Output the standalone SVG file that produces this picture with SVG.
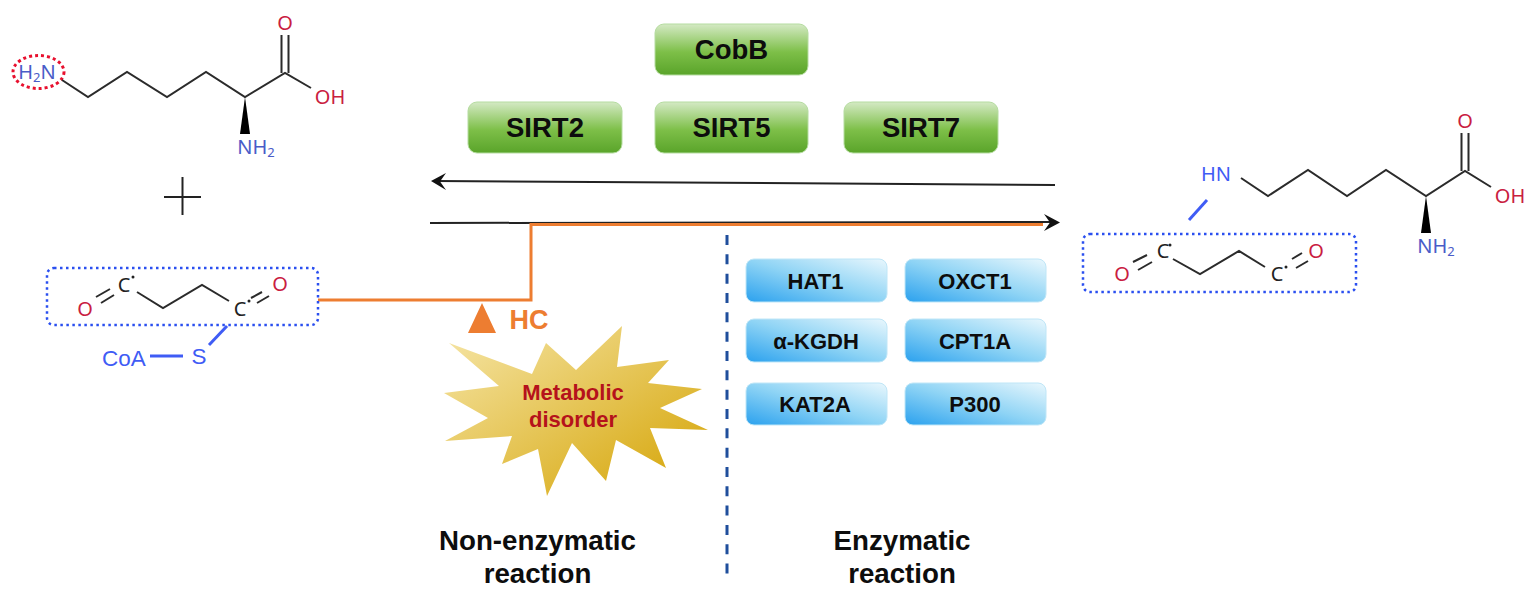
<svg xmlns="http://www.w3.org/2000/svg" width="1535" height="600" viewBox="0 0 1535 600">
<style>
text{font-family:"Liberation Sans",Arial,sans-serif}
.b{stroke:#2b2b2b;stroke-width:2;fill:none;stroke-linejoin:miter}
.chem{font-family:"Noto Sans","Open Sans",sans-serif;font-size:20px;text-anchor:middle}
.red{fill:#c9203f}.nb{fill:#4a5cc8}.blue{fill:#3f5cf5}.k{fill:#222}
.bl{stroke:#3f5cf5;stroke-width:3;fill:none}
.dot{fill:none;stroke:#2a4ff0;stroke-width:2.500;stroke-dasharray:2.500 3.500}
.g{fill:url(#gg);stroke:#b5dca0;stroke-width:1}
.c{fill:url(#cg);stroke:#bfe6f7;stroke-width:1}
.lab{font-weight:700;text-anchor:middle;fill:#0d0d0d}
.gl{font-size:27.500px}.cl{font-size:22px}.cap{font-size:27.700px}
.big{font-family:"Liberation Sans",sans-serif;font-size:22.500px}
</style>
<defs>
<linearGradient id="gg" x1="0" y1="0" x2="0" y2="1"><stop offset="0" stop-color="#d4e9c4"/><stop offset=".55" stop-color="#7dbf48"/><stop offset="1" stop-color="#5aa42a"/></linearGradient>
<linearGradient id="cg" x1="0" y1="1" x2="1" y2="0"><stop offset="0" stop-color="#2ba1ee"/><stop offset=".5" stop-color="#8fd4f5"/><stop offset="1" stop-color="#e9f7fd"/></linearGradient>
<linearGradient id="sg" x1="0" y1="0" x2="1" y2="1"><stop offset="0" stop-color="#f6e6a8"/><stop offset="1" stop-color="#d4a200"/></linearGradient>
</defs>
<rect width="1535" height="600" fill="#fff"/>

<g id="connectors">
<path d="M1055 185 L436 181" stroke="#222" stroke-width="2" fill="none"/>
<path d="M431 181 L446 173 L440 181.500 L446 190 Z" fill="#111"/>
<path d="M430 223 L1054 222" stroke="#222" stroke-width="2" fill="none"/>
<path d="M318 300 H531 V224.500 H1043" stroke="#ed7d31" stroke-width="3" fill="none"/>
<path d="M1060 222.500 L1044 214 L1050 222.500 L1044 231 Z" fill="#111"/>
<path d="M727 235 V575" stroke="#1f4e9c" stroke-width="3" stroke-dasharray="10 9.330" fill="none"/>
</g>

<g id="lysine">
<ellipse cx="38.500" cy="72" rx="25.500" ry="16.500" fill="none" stroke="#e8102e" stroke-width="3" stroke-dasharray="3 3"/>
<path class="b" d="M62 80 L88 97 L127 72 L167 97 L206 72 L245 97 L285 73 L311 88"/>
<path class="b" d="M281.500 73 V35 M288.500 73 V35"/>
<path d="M245 97 L240 134 H250 Z" fill="#000"/>
<text class="chem nb" x="37" y="79">H<tspan font-size="13" dy="3">2</tspan><tspan dy="-3">N</tspan></text>
<text class="chem red" x="285" y="30">O</text>
<text class="chem red" x="330" y="104">OH</text>
<text class="chem nb" x="256" y="154">NH<tspan font-size="13" dy="3">2</tspan></text>
</g>

<g id="plus"><path d="M164 197 H201 M182.500 177 V215" stroke="#222" stroke-width="2" fill="none"/></g>

<g id="succinyl-coa">
<rect class="dot" x="47" y="268" width="271" height="57" rx="7"/>
<path class="b" d="M137 292 L163 308 L202 285 L229 301 M96 297 L110 289 M101 303 L114 295 M251 298 L262 292 M257 303 L269 296"/>
<text class="chem red" x="85" y="316">O</text>
<text class="chem k" x="124" y="292">C</text>
<circle cx="133" cy="277" r="1.500" fill="#222"/>
<text class="chem k" x="240" y="316">C</text>
<circle cx="249" cy="301" r="1.500" fill="#222"/>
<text class="chem red" x="280" y="291">O</text>
<path class="bl" d="M227 326 L209 345"/>
<path d="M150 356 H183" class="bl" stroke-width="4"/>
<text class="chem blue big" x="124" y="366">CoA</text>
<text class="chem blue big" x="199" y="364">S</text>
</g>

<g id="succinyl-lysine">
<path class="b" d="M1241 178 L1268 196 L1308 170 L1347 196 L1386 170 L1426 196 L1465 171 L1491 187"/>
<path class="b" d="M1461.500 171 V133 M1468.500 171 V133"/>
<path d="M1426 196 L1421 233 H1431 Z" fill="#000"/>
<text class="chem blue" x="1216" y="181">HN</text>
<text class="chem red" x="1465" y="128">O</text>
<text class="chem red" x="1510" y="203">OH</text>
<text class="chem nb" x="1436" y="253">NH<tspan font-size="13" dy="3">2</tspan></text>
<path class="bl" d="M1207 200 L1189 220"/>
<rect class="dot" x="1083" y="234" width="273" height="58" rx="7"/>
<path class="b" d="M1173 259 L1200 274 L1239 251 L1265 267 M1133 262 L1147 255 M1138 270 L1152 262 M1292 259 L1302 253 M1296 268 L1308 261"/>
<text class="chem red" x="1122" y="281">O</text>
<text class="chem k" x="1163" y="258">C</text>
<circle cx="1170" cy="245" r="1.500" fill="#222"/>
<text class="chem k" x="1277" y="281">C</text>
<circle cx="1286" cy="267" r="1.500" fill="#222"/>
<text class="chem red" x="1316" y="258">O</text>
</g>

<g id="cobb"><rect class="g" x="655" y="24" width="153" height="51" rx="9"/><text class="lab gl" x="731.500" y="59">CobB</text></g>
<g id="sirt2"><rect class="g" x="468" y="102" width="154" height="51" rx="9"/><text class="lab gl" x="545" y="137">SIRT2</text></g>
<g id="sirt5"><rect class="g" x="655" y="102" width="153" height="51" rx="9"/><text class="lab gl" x="731.500" y="137">SIRT5</text></g>
<g id="sirt7"><rect class="g" x="844" y="102" width="154" height="51" rx="9"/><text class="lab gl" x="921" y="137">SIRT7</text></g>

<g id="hat1"><rect class="c" x="746" y="259" width="141" height="43" rx="8"/><text class="lab cl" x="815.500" y="289">HAT1</text></g>
<g id="oxct1"><rect class="c" x="905" y="259" width="141" height="43" rx="8"/><text class="lab cl" x="975" y="289">OXCT1</text></g>
<g id="akgdh"><rect class="c" x="746" y="319" width="141" height="43" rx="8"/><text class="lab cl" x="816" y="349">α-KGDH</text></g>
<g id="cpt1a"><rect class="c" x="905" y="319" width="141" height="43" rx="8"/><text class="lab cl" x="975" y="349">CPT1A</text></g>
<g id="kat2a"><rect class="c" x="746" y="383" width="141" height="42" rx="8"/><text class="lab cl" x="815" y="412">KAT2A</text></g>
<g id="p300"><rect class="c" x="905" y="383" width="141" height="42" rx="8"/><text class="lab cl" x="975" y="412">P300</text></g>

<g id="hc">
<path d="M482 303 L496 333 H468 Z" fill="#ed7d31"/>
<text x="529" y="329" font-size="27" font-weight="700" fill="#ed7d31" text-anchor="middle">HC</text>
</g>

<g id="metabolic-disorder">
<path d="M449 343 L532 374 L546 343 L576 370 L622 326 L617 367 L669 360 L648 383 L702 389 L660 408 L708 430 L650 428 L666 468 L616 440 L606 481 L572 443 L547 496 L538 449 L502 464 L512 436 L445 441 L488 418 L444 393 L499 386 Z" fill="url(#sg)"/>
<text x="573" y="400" font-size="22" font-weight="700" fill="#b5121b" text-anchor="middle">Metabolic</text>
<text x="573" y="427" font-size="22" font-weight="700" fill="#b5121b" text-anchor="middle">disorder</text>
</g>

<g id="non-enzymatic-label">
<text class="lab cap" x="537.500" y="550">Non-enzymatic</text>
<text class="lab cap" x="537.500" y="583">reaction</text>
</g>
<g id="enzymatic-label">
<text class="lab cap" x="902" y="550">Enzymatic</text>
<text class="lab cap" x="902" y="583">reaction</text>
</g>
</svg>
